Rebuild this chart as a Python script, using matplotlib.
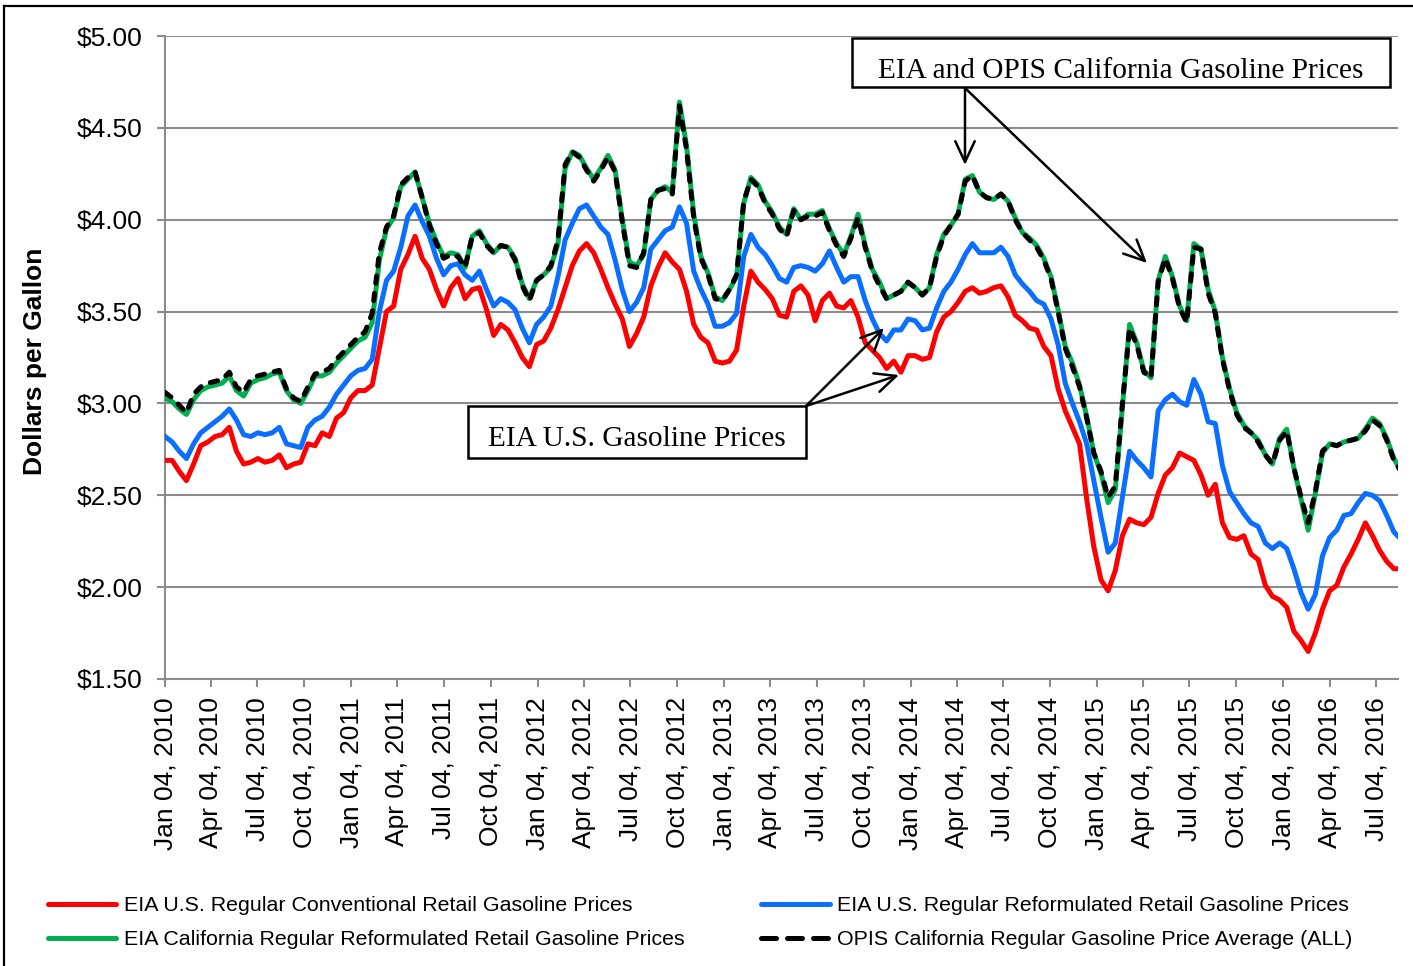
import numpy as np
import pandas as pd
import matplotlib
matplotlib.use("Agg")
import matplotlib.pyplot as plt
from matplotlib.patches import Rectangle
from matplotlib.lines import Line2D
from matplotlib.ticker import FuncFormatter

# ---------------- data (bi-weekly readings, starting Jan 04, 2010) ----------------
start_date = "2010-01-04"
step = "14D"

us_conventional = [
    2.69, 2.69, 2.63, 2.58, 2.67, 2.77, 2.79, 2.82, 2.83, 2.87,
    2.74, 2.67, 2.68, 2.70, 2.68, 2.69, 2.72, 2.65, 2.67, 2.68,
    2.78, 2.77, 2.84, 2.82, 2.92, 2.95, 3.03, 3.07, 3.07, 3.10,
    3.30, 3.50, 3.53, 3.73, 3.81, 3.91, 3.79, 3.73, 3.62, 3.53,
    3.63, 3.68, 3.57, 3.62, 3.63, 3.51, 3.37, 3.43, 3.40, 3.33,
    3.25, 3.20, 3.32, 3.34, 3.41, 3.51, 3.63, 3.75, 3.83, 3.87,
    3.82, 3.73, 3.63, 3.54, 3.46, 3.31, 3.38, 3.47, 3.64, 3.74,
    3.82, 3.77, 3.73, 3.61, 3.43, 3.36, 3.33, 3.23, 3.22, 3.23,
    3.29, 3.53, 3.72, 3.66, 3.62, 3.57, 3.48, 3.47, 3.61, 3.64,
    3.59, 3.45, 3.56, 3.60, 3.53, 3.52, 3.56, 3.47, 3.33, 3.29,
    3.25, 3.19, 3.23, 3.17, 3.26, 3.26, 3.24, 3.25, 3.39, 3.47,
    3.50, 3.55, 3.61, 3.63, 3.60, 3.61, 3.63, 3.64, 3.58, 3.48,
    3.45, 3.41, 3.40, 3.31, 3.26, 3.08, 2.96, 2.87, 2.78, 2.48,
    2.22, 2.04, 1.98, 2.09, 2.28, 2.37, 2.35, 2.34, 2.38, 2.51,
    2.61, 2.65, 2.73, 2.71, 2.69, 2.61, 2.50, 2.56, 2.35, 2.27,
    2.26, 2.28, 2.18, 2.15, 2.01, 1.95, 1.93, 1.89, 1.76, 1.71,
    1.65, 1.75, 1.88, 1.98, 2.01, 2.11, 2.18, 2.26, 2.35, 2.28,
    2.20, 2.14, 2.10, 2.10,
]

us_reformulated = [
    2.82, 2.79, 2.74, 2.70, 2.78, 2.84, 2.87, 2.90, 2.93, 2.97,
    2.91, 2.83, 2.82, 2.84, 2.83, 2.84, 2.87, 2.78, 2.77, 2.76,
    2.87, 2.91, 2.93, 2.98, 3.05, 3.10, 3.15, 3.18, 3.19, 3.24,
    3.50, 3.67, 3.72, 3.85, 4.02, 4.08, 3.99, 3.91, 3.79, 3.70,
    3.75, 3.76, 3.70, 3.67, 3.72, 3.62, 3.53, 3.57, 3.55, 3.51,
    3.41, 3.33, 3.43, 3.47, 3.53, 3.69, 3.89, 3.98, 4.06, 4.08,
    4.02, 3.96, 3.92, 3.78, 3.62, 3.50, 3.55, 3.63, 3.84, 3.89,
    3.94, 3.96, 4.07, 3.98, 3.72, 3.62, 3.54, 3.42, 3.42, 3.44,
    3.49, 3.80, 3.92, 3.85, 3.81, 3.75, 3.68, 3.66, 3.74, 3.75,
    3.74, 3.72, 3.76, 3.83, 3.74, 3.66, 3.69, 3.69, 3.56, 3.46,
    3.38, 3.34, 3.40, 3.40, 3.46, 3.45, 3.40, 3.41, 3.52, 3.61,
    3.66, 3.73, 3.81, 3.87, 3.82, 3.82, 3.82, 3.85, 3.80, 3.70,
    3.65, 3.61, 3.56, 3.54, 3.46, 3.32, 3.11, 3.00, 2.90, 2.78,
    2.58, 2.38, 2.19, 2.24, 2.49, 2.74, 2.69, 2.65, 2.60, 2.96,
    3.02, 3.05, 3.01, 2.99, 3.13, 3.05, 2.90, 2.89, 2.66, 2.52,
    2.46, 2.40, 2.35, 2.33, 2.24, 2.21, 2.24, 2.21, 2.10, 1.97,
    1.88, 1.96, 2.17, 2.27, 2.31, 2.39, 2.40, 2.46, 2.51, 2.50,
    2.47, 2.39, 2.30, 2.26,
]

ca_reformulated = [
    3.03, 3.01, 2.97, 2.94, 3.02, 3.07, 3.09, 3.10, 3.11, 3.15,
    3.07, 3.04, 3.11, 3.13, 3.14, 3.16, 3.17, 3.07, 3.02, 3.00,
    3.07, 3.15, 3.15, 3.17, 3.22, 3.26, 3.30, 3.34, 3.36, 3.44,
    3.78, 3.95, 4.01, 4.18, 4.22, 4.26, 4.12, 3.98, 3.88, 3.80,
    3.82, 3.81, 3.74, 3.91, 3.94, 3.87, 3.82, 3.86, 3.85, 3.79,
    3.65, 3.57, 3.67, 3.70, 3.74, 3.87, 4.28, 4.37, 4.35, 4.28,
    4.22, 4.28, 4.35, 4.27, 4.00, 3.77, 3.75, 3.81, 4.11, 4.16,
    4.18, 4.15, 4.64, 4.40, 4.03, 3.80, 3.71, 3.58, 3.56, 3.62,
    3.69, 4.09, 4.23, 4.19, 4.10, 4.04, 3.96, 3.92, 4.06, 4.00,
    4.03, 4.03, 4.05, 3.95, 3.87, 3.81, 3.91, 4.03, 3.86, 3.73,
    3.66, 3.57, 3.59, 3.61, 3.66, 3.63, 3.59, 3.63, 3.81, 3.92,
    3.97, 4.03, 4.22, 4.24, 4.15, 4.12, 4.11, 4.14, 4.10, 4.01,
    3.93, 3.90, 3.86, 3.79, 3.69, 3.51, 3.31, 3.22, 3.10, 2.93,
    2.73, 2.62, 2.46, 2.53, 2.98, 3.43, 3.33, 3.18, 3.14, 3.67,
    3.80, 3.69, 3.53, 3.45, 3.87, 3.84, 3.62, 3.50, 3.25, 3.08,
    2.95, 2.88, 2.84, 2.80, 2.72, 2.67, 2.81, 2.86, 2.65, 2.48,
    2.31, 2.51, 2.73, 2.78, 2.77, 2.79, 2.80, 2.81, 2.86, 2.92,
    2.89, 2.81, 2.70, 2.63,
]

opis_california = [
    3.06, 3.03, 2.99, 2.95, 3.05, 3.09, 3.11, 3.12, 3.13, 3.17,
    3.09, 3.06, 3.13, 3.15, 3.16, 3.17, 3.18, 3.08, 3.03, 3.01,
    3.09, 3.16, 3.17, 3.19, 3.24, 3.28, 3.32, 3.36, 3.39, 3.49,
    3.82, 3.96, 4.02, 4.19, 4.23, 4.26, 4.12, 3.97, 3.87, 3.79,
    3.81, 3.80, 3.74, 3.91, 3.93, 3.86, 3.82, 3.86, 3.85, 3.78,
    3.64, 3.56, 3.67, 3.70, 3.75, 3.89, 4.30, 4.37, 4.34, 4.27,
    4.21, 4.27, 4.34, 4.26, 3.99, 3.75, 3.74, 3.82, 4.11, 4.16,
    4.17, 4.14, 4.62, 4.38, 4.01, 3.79, 3.70, 3.57, 3.56, 3.62,
    3.70, 4.10, 4.22, 4.18, 4.09, 4.03, 3.95, 3.91, 4.05, 4.00,
    4.02, 4.02, 4.04, 3.94, 3.86, 3.80, 3.90, 4.01, 3.85, 3.72,
    3.64, 3.57, 3.59, 3.61, 3.66, 3.63, 3.59, 3.63, 3.80, 3.91,
    3.97, 4.03, 4.21, 4.24, 4.15, 4.12, 4.11, 4.14, 4.10, 4.00,
    3.93, 3.89, 3.85, 3.78, 3.68, 3.50, 3.30, 3.20, 3.09, 2.92,
    2.73, 2.63, 2.49, 2.55, 3.00, 3.41, 3.32, 3.17, 3.14, 3.66,
    3.79, 3.68, 3.52, 3.44, 3.85, 3.84, 3.60, 3.49, 3.24, 3.07,
    2.94, 2.87, 2.84, 2.79, 2.72, 2.67, 2.80, 2.85, 2.65, 2.49,
    2.35, 2.52, 2.74, 2.78, 2.77, 2.79, 2.80, 2.81, 2.85, 2.91,
    2.88, 2.80, 2.69, 2.63,
]

series_labels = [
    "EIA U.S. Regular Conventional Retail Gasoline Prices",
    "EIA U.S. Regular Reformulated Retail Gasoline Prices",
    "EIA California Regular Reformulated Retail Gasoline Prices",
    "OPIS California Regular Gasoline Price Average (ALL)",
]
series_colors = ["#FF0000", "#0A6EFF", "#00B050", "#000000"]

tick_dates = [f"{y}-{m:02d}-04" for y in range(2010, 2017) for m in (1, 4, 7, 10)
              if not (y == 2016 and m == 10)]
y_ticks = [1.5, 2.0, 2.5, 3.0, 3.5, 4.0, 4.5, 5.0]
x_start, x_end = "2010-01-04", "2016-08-16"

box_top_text = "EIA and OPIS California Gasoline Prices"
box_mid_text = "EIA U.S. Gasoline Prices"

# ---------------- figure ----------------
W, H = 1413, 966
fig = plt.figure(figsize=(W / 100, H / 100), dpi=100)
fig.patch.set_facecolor("white")

L, R, T, B = 165, 1398, 36, 679
ax = fig.add_axes([L / W, 1 - B / H, (R - L) / W, (B - T) / H])

dates = pd.date_range(start_date, periods=len(us_conventional), freq=step)

grid_gray = "#8C8C8C"
lw = 3.6
ax.plot(dates, us_conventional, color=series_colors[0], lw=lw, solid_joinstyle="round", zorder=3)
ax.plot(dates, us_reformulated, color=series_colors[1], lw=lw, solid_joinstyle="round", zorder=3)
ax.plot(dates, ca_reformulated, color=series_colors[2], lw=lw, solid_joinstyle="round", zorder=3)
ax.plot(dates, opis_california, color=series_colors[3], lw=lw, ls=(0, (1.5, 2.0)),
        dash_capstyle="round", zorder=4)

ax.set_xlim(pd.Timestamp(x_start), pd.Timestamp(x_end))
ax.set_ylim(y_ticks[0], y_ticks[-1])
ax.set_yticks(y_ticks)
ax.yaxis.set_major_formatter(FuncFormatter(lambda v, p: f"${v:.2f}"))
tick_ts = [pd.Timestamp(d) for d in tick_dates]
ax.set_xticks(tick_ts)
ax.set_xticklabels([t.strftime("%b %d, %Y") for t in tick_ts], rotation=90)

ax.grid(axis="y", color=grid_gray, lw=1.5, zorder=0)
ax.set_axisbelow(True)
for s in ("top", "right"):
    ax.spines[s].set_visible(False)
for s in ("left", "bottom"):
    ax.spines[s].set_color(grid_gray)
    ax.spines[s].set_linewidth(1.5)
ax.tick_params(axis="both", colors=grid_gray, length=6, width=1.5, labelcolor="black")
ax.tick_params(axis="y", pad=10, labelsize=19)
ax.tick_params(axis="x", pad=7, labelsize=19)
for lab in ax.get_xticklabels() + ax.get_yticklabels():
    lab.set_family("Liberation Sans")

fig.text(35 / W, 1 - 361 / H, "Dollars per Gallon", rotation=90, ha="center", va="center",
         fontsize=19, fontweight="bold", family="Liberation Sans")

# ---------------- annotation boxes ----------------
def ax_frac(px, py):
    return ((px - L) / (R - L), 1 - (py - T) / (B - T))

def box(x0, y0, x1, y1, text, text_dy):
    fx0, fy1 = ax_frac(x0, y0)
    fx1, fy0 = ax_frac(x1, y1)
    ax.add_patch(Rectangle((fx0, fy0), fx1 - fx0, fy1 - fy0, transform=ax.transAxes,
                           facecolor="white", edgecolor="black", lw=1.8, zorder=6, clip_on=False))
    tx, ty = ax_frac((x0 + x1) / 2, (y0 + y1) / 2 + text_dy)
    ax.text(tx, ty, text, transform=ax.transAxes, ha="center",
            va="center", fontsize=21.2, family="Liberation Serif", zorder=7)

box(852, 38, 1390, 87, box_top_text, 8)
box(468, 406, 806, 458, box_mid_text, 7)

def arrow(start, tip):
    ax.annotate("", xy=ax_frac(*tip), xycoords="axes fraction",
                xytext=ax_frac(*start), textcoords="axes fraction",
                arrowprops=dict(arrowstyle="->,head_length=0.75,head_width=0.35",
                                color="black", lw=1.8, mutation_scale=20,
                                shrinkA=0, shrinkB=0), zorder=8)

arrow((965, 88), (965, 165))
arrow((965, 88), (1147, 263))
arrow((806, 406), (884, 328))
arrow((806, 406), (899, 375))

# ---------------- legend ----------------
handles = [
    Line2D([], [], color=series_colors[0], lw=lw, solid_capstyle="round"),
    Line2D([], [], color=series_colors[2], lw=lw, solid_capstyle="round"),
    Line2D([], [], color=series_colors[1], lw=lw, solid_capstyle="round"),
    Line2D([], [], color=series_colors[3], lw=lw, ls=(0, (3.0, 2.2)), dash_capstyle="round"),
]
labels = [series_labels[0], series_labels[2], series_labels[1], series_labels[3]]
leg = fig.legend(handles, labels, ncol=2, loc="upper left",
                 bbox_to_anchor=(48 / W, 1 - 896 / H), frameon=False,
                 prop={"family": "Liberation Sans", "size": 15.4},
                 handlelength=3.2, handletextpad=0.33, columnspacing=3.6,
                 labelspacing=0.72, borderpad=0, borderaxespad=0)

# outer chart border (left and top edges visible)
fig.add_artist(Line2D([4 / W, 4 / W], [0, 1 - 6 / H], transform=fig.transFigure,
                      color="black", lw=1.6))
fig.add_artist(Line2D([4 / W, 1], [1 - 6 / H, 1 - 6 / H], transform=fig.transFigure,
                      color="black", lw=1.6))

fig.savefig("out.png", dpi=100, facecolor="white")
